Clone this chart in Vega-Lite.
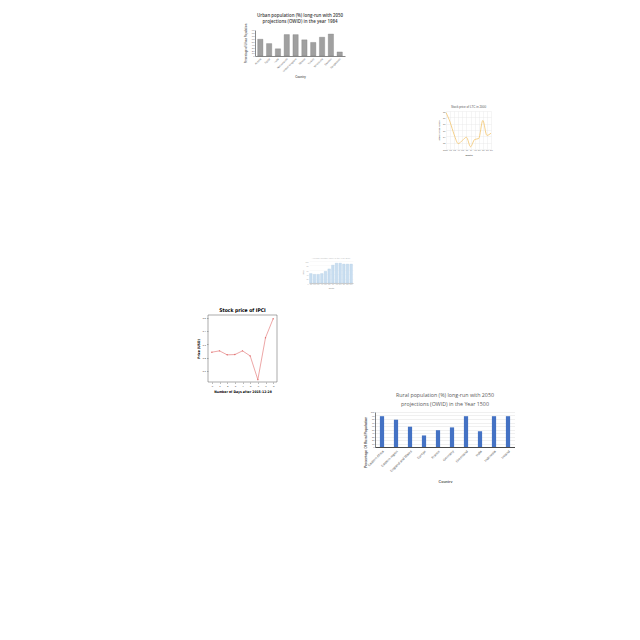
{
  "$schema": "https://vega.github.io/schema/vega-lite/v6.json",
  "padding": 0,
  "spacing": 0,
  "config": {
    "font": "Liberation Sans",
    "view": {"stroke": null},
    "concat": {"spacing": 0},
    "axis": {"labelFontSize": 3, "titleFontSize": 3, "tickSize": 1.5, "labelPadding": 1, "titlePadding": 2}
  },
  "vconcat": [
    {"data": {"values": []}, "mark": "point", "width": 1, "height": 13},
    {
      "spacing": 0,
      "hconcat": [
        {"data": {"values": []}, "mark": "point", "width": 245, "height": 1},
        {
          "width": 90,
          "height": 26,
          "title": {"text": ["Urban population (%) long-run with 2050", "projections (OWID) in the year 1984"], "font": "Open Sans", "fontSize": 4.4, "fontWeight": 600, "color": "#3a3a3a", "lineHeight": 5.5, "offset": -1},
          "data": {"values": [
            {"Country": "Austria", "Urban": 58},
            {"Country": "Egypt", "Urban": 43},
            {"Country": "India", "Urban": 25},
            {"Country": "Netherlands", "Urban": 74},
            {"Country": "United Kingdom", "Urban": 74},
            {"Country": "Mexico", "Urban": 56},
            {"Country": "Turkey", "Urban": 47},
            {"Country": "Venezuela", "Urban": 65},
            {"Country": "Sweden", "Urban": 76},
            {"Country": "Bangladesh", "Urban": 14}
          ]},
          "mark": {"type": "bar", "color": "#a0a0a0", "stroke": "#707070", "strokeWidth": 0.3},
          "encoding": {
            "x": {"field": "Country", "type": "nominal", "sort": null, "scale": {"paddingInner": 0.4, "paddingOuter": 0.3},
              "axis": {"labelAngle": -45, "labelFontSize": 2.6, "titleFontSize": 2.8, "ticks": false, "domainColor": "#888", "labelColor": "#666", "titleColor": "#666", "labelPadding": 1.5, "titlePadding": 3}},
            "y": {"field": "Urban", "type": "quantitative", "scale": {"domain": [0, 90], "nice": false},
              "axis": {"title": "Percentage of Urban Population", "grid": false, "ticks": false, "tickCount": 10, "labelFontSize": 2.4, "titleFontSize": 2.6, "domainColor": "#888", "labelColor": "#666", "titleColor": "#666", "titlePadding": 3}}
          }
        }
      ]
    },
    {"data": {"values": []}, "mark": "point", "width": 1, "height": 26},
    {
      "spacing": 0,
      "hconcat": [
        {"data": {"values": []}, "mark": "point", "width": 437, "height": 1},
        {
          "width": 45,
          "height": 38,
          "title": {"text": "Stock price of LTC in 2000", "fontSize": 3, "fontWeight": "normal", "color": "#555", "offset": 1.5},
          "data": {"values": [
            {"Month": "Jan", "Price": 31.5},
            {"Month": "Feb", "Price": 28.5},
            {"Month": "Mar", "Price": 24.5},
            {"Month": "Apr", "Price": 21.7},
            {"Month": "May", "Price": 22.7},
            {"Month": "Jun", "Price": 23.7},
            {"Month": "Jul", "Price": 20.7},
            {"Month": "Aug", "Price": 23.0},
            {"Month": "Sep", "Price": 23.3},
            {"Month": "Oct", "Price": 29.0},
            {"Month": "Nov", "Price": 24.3},
            {"Month": "Dec", "Price": 25.0}
          ]},
          "mark": {"type": "line", "color": "#f3c46c", "strokeWidth": 0.8, "interpolate": "monotone"},
          "encoding": {
            "x": {"field": "Month", "type": "ordinal", "sort": null, "scale": {"type": "point", "padding": 0},
              "axis": {"title": "Month", "labelAngle": 0, "labelFontSize": 1.6, "titleFontSize": 2.4, "grid": true, "gridColor": "#e6e6e6", "gridWidth": 0.4, "domain": false, "ticks": false, "labelColor": "#666", "titleColor": "#666"}},
            "y": {"field": "Price", "type": "quantitative", "scale": {"domain": [20, 32], "nice": false},
              "axis": {"title": "Stock price (USD)", "tickCount": 4, "labelFontSize": 2.2, "titleFontSize": 2.4, "grid": true, "gridColor": "#e6e6e6", "gridWidth": 0.4, "domain": false, "ticks": false, "labelColor": "#666", "titleColor": "#666"}}
          }
        }
      ]
    },
    {"data": {"values": []}, "mark": "point", "width": 1, "height": 100},
    {
      "spacing": 0,
      "hconcat": [
        {"data": {"values": []}, "mark": "point", "width": 302, "height": 1},
        {
          "width": 44,
          "height": 22,
          "title": {"text": "Average monthly value in the year 2010", "fontSize": 2.2, "fontWeight": "normal", "color": "#bbb", "offset": 2},
          "data": {"values": [
            {"Month": "Jan", "Value": 43},
            {"Month": "Feb", "Value": 39},
            {"Month": "Mar", "Value": 39},
            {"Month": "Apr", "Value": 43},
            {"Month": "May", "Value": 53},
            {"Month": "Jun", "Value": 64},
            {"Month": "Jul", "Value": 81},
            {"Month": "Aug", "Value": 90},
            {"Month": "Sep", "Value": 90},
            {"Month": "Oct", "Value": 86},
            {"Month": "Nov", "Value": 86},
            {"Month": "Dec", "Value": 86}
          ]},
          "mark": {"type": "bar", "color": "#c9def0", "stroke": "#a9c8e3", "strokeWidth": 0.3},
          "encoding": {
            "x": {"field": "Month", "type": "nominal", "sort": null, "scale": {"paddingInner": 0.3},
              "axis": {"title": "Month", "labelAngle": 0, "labelFontSize": 1.5, "titleFontSize": 1.8, "ticks": false, "domainColor": "#ccc", "labelColor": "#aaa", "titleColor": "#aaa"}},
            "y": {"field": "Value", "type": "quantitative", "scale": {"domain": [0, 100]},
              "axis": {"title": "Value", "tickCount": 5, "labelFontSize": 1.8, "titleFontSize": 1.8, "grid": true, "gridColor": "#eee", "gridWidth": 0.3, "domain": false, "ticks": false, "labelColor": "#aaa", "titleColor": "#aaa"}}
          }
        }
      ]
    },
    {"data": {"values": []}, "mark": "point", "width": 1, "height": 17},
    {
      "spacing": 0,
      "hconcat": [
        {"data": {"values": []}, "mark": "point", "width": 195, "height": 1},
        {
          "width": 69,
          "height": 67,
          "view": {"stroke": "#555", "strokeWidth": 0.5},
          "title": {"text": "Stock price of IPCI", "font": "DejaVu Sans Condensed", "fontSize": 5, "fontWeight": "bold", "color": "#000", "offset": 2},
          "data": {"values": [
            {"Day": 0, "Price": 3.241},
            {"Day": 1, "Price": 3.251},
            {"Day": 2, "Price": 3.221},
            {"Day": 3, "Price": 3.223},
            {"Day": 4, "Price": 3.251},
            {"Day": 5, "Price": 3.213},
            {"Day": 6, "Price": 3.033},
            {"Day": 7, "Price": 3.351},
            {"Day": 8, "Price": 3.495}
          ]},
          "mark": {"type": "line", "color": "#e06c6c", "strokeWidth": 0.6, "point": {"filled": true, "size": 2, "color": "#e06c6c"}},
          "encoding": {
            "x": {"field": "Day", "type": "quantitative", "scale": {"domain": [-0.5, 8.5], "nice": false},
              "axis": {"title": "Number of Days after 2015-12-28", "values": [0, 1, 2, 3, 4, 5, 6, 7, 8], "grid": false, "labelFontSize": 2.5, "titleFontSize": 3.4, "titleFont": "DejaVu Sans Condensed", "titleFontWeight": "bold", "titleColor": "#000", "domain": false, "tickColor": "#555", "tickWidth": 0.4, "labelColor": "#333"}},
            "y": {"field": "Price", "type": "quantitative", "scale": {"domain": [3.015, 3.523], "nice": false},
              "axis": {"title": "Price (USD)", "values": [3.1, 3.2, 3.3, 3.4, 3.5], "format": ".1f", "grid": false, "labelFontSize": 2.5, "titleFontSize": 3.4, "titleFont": "DejaVu Sans Condensed", "titleFontWeight": "bold", "titleColor": "#000", "domain": false, "tickColor": "#555", "tickWidth": 0.4, "labelColor": "#333"}}
          }
        },
        {"data": {"values": []}, "mark": "point", "width": 85, "height": 1},
        {
          "spacing": 0,
          "vconcat": [
            {"data": {"values": []}, "mark": "point", "width": 1, "height": 77},
            {
              "width": 140,
              "height": 35,
              "title": {"text": ["Rural population (%) long-run with 2050", "projections (OWID) in the Year 1500"], "font": "Open Sans", "fontSize": 5.3, "fontWeight": "normal", "color": "#595959", "lineHeight": 9, "offset": 4},
              "data": {"values": [
                {"Country": "Eastern Africa", "Rural": 88},
                {"Country": "Eastern region", "Rural": 78},
                {"Country": "England and Wales", "Rural": 58},
                {"Country": "Europe", "Rural": 33},
                {"Country": "France", "Rural": 48},
                {"Country": "Germany", "Rural": 56},
                {"Country": "Greenland", "Rural": 88},
                {"Country": "India", "Rural": 45},
                {"Country": "Indonesia", "Rural": 88},
                {"Country": "Ireland", "Rural": 88}
              ]},
              "mark": {"type": "bar", "color": "#4472c4"},
              "encoding": {
                "x": {"field": "Country", "type": "nominal", "sort": null, "scale": {"paddingInner": 0.7, "paddingOuter": 0.35},
                  "axis": {"labelAngle": -45, "labelFontSize": 3.4, "titleFontSize": 3.6, "ticks": false, "domainColor": "#000", "domainWidth": 0.7, "labelColor": "#595959", "titleColor": "#595959", "labelPadding": 2, "titlePadding": 7}},
                "y": {"field": "Rural", "type": "quantitative", "scale": {"domain": [0, 100], "nice": false},
                  "axis": {"title": "Percentage Of Rural Population", "titleY": 30, "tickCount": 10, "labelFontSize": 2.3, "titleFontSize": 3.4, "grid": true, "gridColor": "#d9d9d9", "gridWidth": 0.4, "ticks": false, "domainColor": "#000", "domainWidth": 0.5, "labelColor": "#595959", "titleColor": "#595959", "titlePadding": 3}}
              }
            }
          ]
        }
      ]
    }
  ]
}
